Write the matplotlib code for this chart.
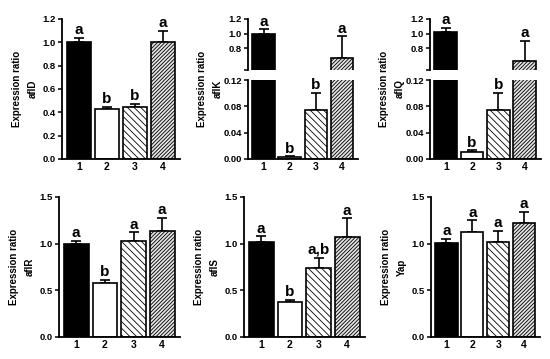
import matplotlib
matplotlib.use("Agg")
import matplotlib.pyplot as plt
import numpy as np

plt.rcParams['font.family'] = ['Liberation Sans', 'DejaVu Sans']
plt.rcParams['font.weight'] = 'bold'
plt.rcParams['hatch.linewidth'] = 0.6

# groups on the x axis
groups = ['1', '2', '3', '4']

# mean expression ratio and SE (upper error only)
afld_mean = [1.00, 0.43, 0.45, 1.00]
afld_err = [0.04, 0.015, 0.025, 0.10]
afld_sig = ['a', 'b', 'b', 'a']

aflk_mean = [1.00, 0.003, 0.075, 0.66]
aflk_err = [0.06, 0.001, 0.026, 0.30]
aflk_sig = ['a', 'b', 'b', 'a']

aflq_mean = [1.02, 0.010, 0.075, 0.62]
aflq_err = [0.06, 0.003, 0.025, 0.28]
aflq_sig = ['a', 'b', 'b', 'a']

aflr_mean = [1.00, 0.58, 1.03, 1.14]
aflr_err = [0.03, 0.035, 0.09, 0.14]
aflr_sig = ['a', 'b', 'a', 'a']

afls_mean = [1.02, 0.37, 0.74, 1.07]
afls_err = [0.06, 0.03, 0.11, 0.20]
afls_sig = ['a', 'b', 'a,b', 'a']

yap_mean = [1.01, 1.13, 1.02, 1.22]
yap_err = [0.04, 0.12, 0.12, 0.12]
yap_sig = ['a', 'a', 'a', 'a']

faces = ['black', 'white', 'white', '#e2e2e2']
hatches = [None, None, '\\\\\\\\\\', '/////////']

W, H = 550, 359
x = np.arange(1, 5)


def px_axes(fig, left, right, top, bottom):
    return fig.add_axes([left / W, 1 - bottom / H, (right - left) / W, (bottom - top) / H])


def draw_bars(ax, mean, err):
    ax.errorbar(x, mean, yerr=[np.zeros(4), err], fmt='none', ecolor='black',
                elinewidth=1.2, capsize=3.5, capthick=1.2, zorder=1)
    for i in range(4):
        ax.bar(x[i], mean[i], width=0.86, color=faces[i], edgecolor='black',
               linewidth=1.2, hatch=hatches[i], zorder=2)
    ax.set_xlim(0.4, 4.62)
    for s in ['top', 'right']:
        ax.spines[s].set_visible(False)
    for s in ['left', 'bottom']:
        ax.spines[s].set_linewidth(1.3)
    ax.tick_params(axis='y', width=1.1, length=3, labelsize=6.8, pad=1.5)
    ax.tick_params(axis='x', length=0, pad=2.5)


def letters(ax, mean, err, sig, idx):
    for i in idx:
        ax.annotate(sig[i], (x[i], mean[i] + err[i]), xytext=(0, 0.5),
                    textcoords='offset points', ha='center', va='bottom',
                    fontsize=11, fontweight='bold')


def bottom_ticks(ax):
    ax.set_xticks(x)
    ax.set_xticklabels(groups, fontsize=7.5, fontweight='bold')


def ylabel(fig, xc, yc, name):
    fig.text(xc / W, 1 - yc / H, 'Expression ratio\n' + name, rotation=90,
             ha='center', va='center', fontsize=7, fontweight='bold', linespacing=1.7)


def simple_panel(fig, box, mean, err, sig, ylim, yticks, name):
    ax = px_axes(fig, *box)
    draw_bars(ax, mean, err)
    ax.set_ylim(*ylim)
    ax.set_yticks(yticks)
    ax.set_yticklabels(['%.1f' % v for v in yticks])
    bottom_ticks(ax)
    letters(ax, mean, err, sig, range(4))
    left, right, top, bottom = box
    ylabel(fig, left - 37, (top + bottom) / 2, name)
    return ax


def broken_panel(fig, left, right, mean, err, sig, name):
    top_ax = px_axes(fig, left, right, 19, 70)
    low_ax = px_axes(fig, left, right, 80, 159)
    draw_bars(top_ax, mean, err)
    draw_bars(low_ax, mean, err)
    top_ax.set_ylim(0.5, 1.2)
    top_ax.set_yticks([0.8, 1.0, 1.2])
    top_ax.set_yticklabels(['0.8', '1.0', '1.2'])
    top_ax.set_yticks([0.5], minor=True)
    top_ax.tick_params(axis='y', which='minor', width=1.1, length=3)
    top_ax.spines['bottom'].set_visible(False)
    top_ax.set_xticks([])
    low_ax.set_ylim(0, 0.12)
    low_ax.set_yticks([0, 0.04, 0.08, 0.12])
    low_ax.set_yticklabels(['0.00', '0.04', '0.08', '0.12'])
    bottom_ticks(low_ax)
    letters(top_ax, mean, err, sig, [0, 3])
    letters(low_ax, mean, err, sig, [1, 2])
    ylabel(fig, left - 38, 89, name)


fig = plt.figure(figsize=(5.5, 3.59), dpi=100)

simple_panel(fig, (62, 180, 19, 159), afld_mean, afld_err, afld_sig,
             (0, 1.2), [0, 0.2, 0.4, 0.6, 0.8, 1.0, 1.2], 'aflD')
broken_panel(fig, 248, 358, aflk_mean, aflk_err, aflk_sig, 'aflK')
broken_panel(fig, 430, 541, aflq_mean, aflq_err, aflq_sig, 'aflQ')

simple_panel(fig, (59, 180, 197, 337), aflr_mean, aflr_err, aflr_sig,
             (0, 1.5), [0, 0.5, 1.0, 1.5], 'aflR')
simple_panel(fig, (244, 365, 197, 337), afls_mean, afls_err, afls_sig,
             (0, 1.5), [0, 0.5, 1.0, 1.5], 'aflS')
simple_panel(fig, (431, 540, 197, 337), yap_mean, yap_err, yap_sig,
             (0, 1.5), [0, 0.5, 1.0, 1.5], 'Yap')

fig.savefig('out.png', dpi=100, facecolor='white')
